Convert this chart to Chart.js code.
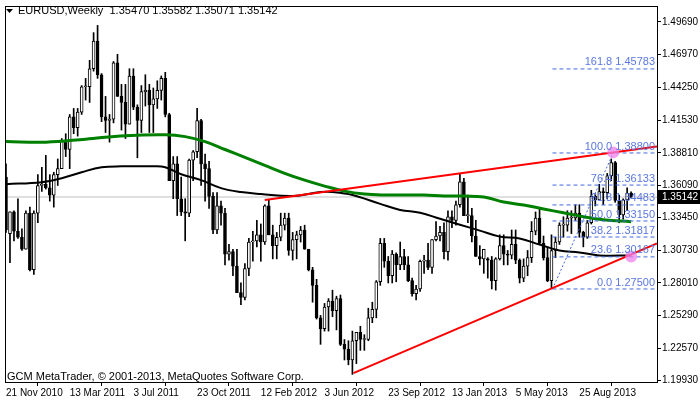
<!DOCTYPE html>
<html>
<head>
<meta charset="utf-8">
<script src="https://cdn.jsdelivr.net/npm/chart.js@4.4.0/dist/chart.umd.min.js"></script>
<style>
  html, body { margin: 0; padding: 0; background: #fff; }
  #wrap { width: 700px; height: 402px; }
</style>
</head>
<body>
<div id="wrap"><canvas id="chart" width="700" height="402"></canvas></div>
<script>
// weekly EURUSD candles, one row per week from 21 Nov 2010: open, high, low, close
const candles = [
  [1.3680,1.3790,1.3220,1.3240],[1.3210,1.3390,1.2968,1.3390],[1.3390,1.3400,1.3150,1.3230],[1.3230,1.3500,1.3170,1.3180],
  [1.3180,1.3250,1.3070,1.3080],[1.3080,1.3400,1.3080,1.3380],[1.3380,1.3430,1.2900,1.2910],[1.2910,1.3400,1.2870,1.3380],
  [1.3380,1.3700,1.3300,1.3610],[1.3610,1.3760,1.3560,1.3620],[1.3620,1.3860,1.3580,1.3590],[1.3590,1.3700,1.3480,1.3530],
  [1.3530,1.3720,1.3430,1.3700],[1.3700,1.3830,1.3610,1.3750],[1.3750,1.4000,1.3770,1.3980],[1.3980,1.4040,1.3850,1.3910],
  [1.3910,1.4200,1.3750,1.4180],[1.4180,1.4250,1.4040,1.4090],[1.4090,1.4250,1.4020,1.4220],[1.4220,1.4440,1.4200,1.4430],
  [1.4430,1.4500,1.4320,1.4430],[1.4430,1.4650,1.4300,1.4580],[1.4580,1.4880,1.4560,1.4810],[1.4810,1.4940,1.4500,1.4530],
  [1.4530,1.4540,1.4140,1.4180],[1.4180,1.4350,1.4050,1.4150],[1.4150,1.4200,1.3970,1.4160],[1.4160,1.4640,1.4130,1.4630],
  [1.4630,1.4700,1.4350,1.4350],[1.4350,1.4450,1.4070,1.4300],[1.4300,1.4450,1.4000,1.4120],[1.4120,1.4580,1.4120,1.4520],
  [1.4520,1.4580,1.4240,1.4260],[1.4260,1.4280,1.3840,1.4150],[1.4150,1.4440,1.4050,1.4390],[1.4390,1.4530,1.4270,1.4400],
  [1.4400,1.4450,1.4050,1.4280],[1.4280,1.4420,1.4050,1.4330],[1.4330,1.4480,1.4250,1.4400],[1.4400,1.4520,1.4320,1.4500],
  [1.4500,1.4550,1.4180,1.4200],[1.4200,1.4210,1.3650,1.3650],[1.3650,1.3850,1.3500,1.3790],[1.3790,1.3850,1.3360,1.3500],
  [1.3500,1.3680,1.3360,1.3390],[1.3390,1.3500,1.3150,1.3380],[1.3380,1.3830,1.3350,1.3820],[1.3820,1.3900,1.3650,1.3890],
  [1.3890,1.4250,1.3840,1.4150],[1.4150,1.4160,1.3610,1.3790],[1.3790,1.3870,1.3480,1.3750],[1.3750,1.3810,1.3420,1.3520],
  [1.3520,1.3550,1.3210,1.3240],[1.3240,1.3550,1.3210,1.3440],[1.3440,1.3480,1.3280,1.3380],[1.3380,1.3420,1.2950,1.3040],
  [1.3040,1.3120,1.2990,1.3060],[1.3060,1.3080,1.2860,1.2940],[1.2940,1.3080,1.2720,1.2720],[1.2720,1.2800,1.2620,1.2680],
  [1.2680,1.2960,1.2660,1.2920],[1.2920,1.3170,1.2860,1.3140],[1.3140,1.3230,1.2980,1.3150],[1.3150,1.3320,1.3100,1.3200],
  [1.3200,1.3290,1.2980,1.3140],[1.3140,1.3450,1.3120,1.3440],[1.3440,1.3490,1.3200,1.3200],[1.3200,1.3280,1.3000,1.3110],
  [1.3110,1.3220,1.3000,1.3180],[1.3180,1.3380,1.3150,1.3280],[1.3280,1.3380,1.3240,1.3340],[1.3340,1.3380,1.3030,1.3070],
  [1.3070,1.3220,1.2990,1.3160],[1.3160,1.3230,1.3000,1.3200],[1.3200,1.3270,1.3140,1.3240],[1.3240,1.3280,1.3080,1.3080],
  [1.3080,1.3080,1.2900,1.2910],[1.2910,1.2930,1.2640,1.2780],[1.2780,1.2830,1.2500,1.2510],[1.2510,1.2530,1.2290,1.2420],
  [1.2420,1.2630,1.2400,1.2600],[1.2600,1.2670,1.2400,1.2650],[1.2650,1.2740,1.2520,1.2570],[1.2570,1.2690,1.2410,1.2670],
  [1.2670,1.2700,1.2280,1.2290],[1.2290,1.2330,1.2160,1.2250],[1.2250,1.2320,1.2120,1.2160],[1.2160,1.2400,1.2040,1.2320],
  [1.2320,1.2390,1.2130,1.2390],[1.2390,1.2440,1.2240,1.2330],[1.2330,1.2370,1.2240,1.2330],[1.2330,1.2590,1.2320,1.2510],
  [1.2510,1.2640,1.2470,1.2580],[1.2580,1.2820,1.2510,1.2810],[1.2810,1.3170,1.2780,1.3130],[1.3130,1.3170,1.2930,1.2980],
  [1.2980,1.3020,1.2800,1.2860],[1.2860,1.3070,1.2800,1.3040],[1.3040,1.3050,1.2810,1.2950],[1.2950,1.3140,1.2910,1.3020],
  [1.3020,1.3080,1.2910,1.2950],[1.2950,1.3020,1.2810,1.2820],[1.2820,1.2840,1.2690,1.2710],[1.2710,1.2780,1.2660,1.2750],
  [1.2750,1.2990,1.2730,1.2980],[1.2980,1.3030,1.2880,1.2990],[1.2990,1.3130,1.2910,1.2930],[1.2930,1.3160,1.2880,1.3160],
  [1.3160,1.3310,1.3150,1.3190],[1.3190,1.3270,1.3150,1.3220],[1.3220,1.3300,1.3000,1.3060],[1.3060,1.3400,1.2990,1.3350],
  [1.3350,1.3400,1.3260,1.3320],[1.3320,1.3480,1.3280,1.3450],[1.3450,1.3710,1.3430,1.3640],[1.3640,1.3670,1.3360,1.3360],
  [1.3360,1.3530,1.3300,1.3360],[1.3360,1.3420,1.3140,1.3190],[1.3190,1.3320,1.3020,1.3020],[1.3020,1.3110,1.2950,1.3000],
  [1.3000,1.3080,1.2880,1.3080],[1.3000,1.3010,1.2840,1.2990],[1.2990,1.3020,1.2750,1.2820],[1.2820,1.3010,1.2740,1.3000],
  [1.3000,1.3200,1.2990,1.3110],[1.3110,1.3200,1.2950,1.3040],[1.3040,1.3070,1.2950,1.3030],[1.3030,1.3240,1.3000,1.3120],
  [1.3120,1.3240,1.2960,1.2990],[1.2990,1.3000,1.2800,1.2840],[1.2840,1.3000,1.2810,1.2940],[1.2940,1.3070,1.2860,1.3010],
  [1.3010,1.3310,1.2970,1.3230],[1.3230,1.3390,1.3200,1.3340],[1.3340,1.3420,1.3120,1.3130],[1.3130,1.3190,1.2990,1.3010],
  [1.3010,1.3100,1.2810,1.2820],[1.2820,1.3200,1.2760,1.3070],[1.3070,1.3180,1.3010,1.3140],[1.3140,1.3300,1.3120,1.3280],
  [1.3280,1.3350,1.3180,1.3280],[1.3280,1.3400,1.3230,1.3340],[1.3340,1.3400,1.3210,1.3340],[1.3340,1.3450,1.3320,1.3380],
  [1.3380,1.3450,1.3180,1.3220],[1.3220,1.3230,1.3100,1.3180],[1.3180,1.3320,1.3170,1.3300],[1.3300,1.3570,1.3290,1.3520],
  [1.3520,1.3540,1.3440,1.3490],[1.3490,1.3620,1.3490,1.3560],[1.3560,1.3590,1.3450,1.3550],[1.3550,1.3710,1.3500,1.3690],
  [1.3690,1.3830,1.3650,1.3800],[1.3800,1.3810,1.3470,1.3485],[1.3485,1.3530,1.3300,1.3365],[1.3365,1.3500,1.3330,1.3490],
  [1.3490,1.3590,1.3400,1.3547],[1.35470,1.35582,1.35071,1.35142]
];

// moving averages, read at sampled weeks
const greenMaWeeks = [0,10,20,30,40,45,50,55,60,65,70,75,80,85,90,95,100,105,110,115,120,125,130,135,140,145,150,157];
const greenMa = [1.3975,1.3970,1.3995,1.4024,1.4032,1.4016,1.3974,1.3909,1.3843,1.3777,1.3711,1.3654,1.3605,1.3563,1.3539,1.3531,1.3531,1.3531,1.3522,1.3522,1.3514,1.3473,1.3448,1.3415,1.3383,1.3350,1.3325,1.3309];
const blackMaWeeks = [0,9,14,19,24,29,37,40,44,49,54,59,64,72,79,82,87,94,99,104,109,114,119,124,129,134,139,144,149,157];
const blackMa = [1.3621,1.3637,1.3670,1.3720,1.3761,1.3769,1.3769,1.3761,1.3703,1.3654,1.3588,1.3555,1.3539,1.3522,1.3555,1.3555,1.3531,1.3457,1.3407,1.3383,1.3333,1.3284,1.3235,1.3185,1.3169,1.3119,1.3070,1.3054,1.3029,1.3029];

// trend lines [week, price]
const upperTrend = [[65, 1.3489], [163.5, 1.3933]];
const lowerTrend = [[87.25, 1.2051], [163.5, 1.3128]];

// fibonacci retracement
const fibStart = 137.25;
const fibLevels = ["0.0", "23.6", "38.2", "50.0", "61.8", "76.4", "100.0", "161.8"];
const fibPrices = [1.27500, 1.30167, 1.31817, 1.33150, 1.34483, 1.36133, 1.38800, 1.45783];
const fibDiagonal = [[137.25, 1.2750], [152.5, 1.3880]];
const markers = [[152.5, 1.3885], [157, 1.3020]];

const lastPrice = 1.35142;
const yTicks = [1.49690, 1.46970, 1.44250, 1.41530, 1.38810, 1.36090, 1.33450, 1.30730, 1.28010, 1.25290, 1.22570, 1.19930];
const dateTicks = [0, 16, 32, 48, 64, 80, 96, 112, 128, 144];
const dateLabels = ["21 Nov 2010", "13 Mar 2011", "3 Jul 2011", "23 Oct 2011", "12 Feb 2012", "3 Jun 2012", "23 Sep 2012", "13 Jan 2013", "5 May 2013", "25 Aug 2013"];

const FONT = "Liberation Sans";
const pts = arr => arr.map(p => ({ x: p[0], y: p[1] }));

const wicks = candles.map((c, i) => ({ x: i, y: [c[2], c[1]] }));
const bodies = candles.map((c, i) => ({ x: i, y: [c[0], c[3]] }));
const bodyFill = candles.map(c => c[3] >= c[0] ? "#ffffff" : "#000000");

let datasets = [
  { type: "line", data: [{ x: 0, y: lastPrice }, { x: 163.5, y: lastPrice }], borderColor: "#c0c0c0", borderWidth: 1, pointRadius: 0, order: 9 },
  { type: "bar", data: wicks, backgroundColor: "#000", barThickness: 1, grouped: false, order: 5 },
  { type: "bar", data: bodies, backgroundColor: bodyFill, borderColor: "#000", borderWidth: 1, borderSkipped: false,
    barThickness: 3, grouped: false, minBarLength: 1, order: 4 },
  { type: "line", data: greenMaWeeks.map((w, i) => ({ x: w, y: greenMa[i] })), borderColor: "#008000", borderWidth: 3, pointRadius: 0, tension: 0.4, order: 2 },
  { type: "line", data: blackMaWeeks.map((w, i) => ({ x: w, y: blackMa[i] })), borderColor: "#000", borderWidth: 2, pointRadius: 0, tension: 0.4, order: 2 },
  { type: "line", data: pts(upperTrend), borderColor: "#ff0000", borderWidth: 2, pointRadius: 0, order: 1 },
  { type: "line", data: pts(lowerTrend), borderColor: "#ff0000", borderWidth: 2, pointRadius: 0, order: 1 },
  { type: "line", data: pts(fibDiagonal), borderColor: "#4169e1", borderWidth: 1, borderDash: [2, 2], pointRadius: 0, order: 1 },
  { type: "scatter", data: pts(markers), backgroundColor: "rgba(238,130,238,0.75)", borderWidth: 0, pointRadius: 6, order: 0 }
];
fibPrices.forEach(p => {
  datasets.push({ type: "line", data: [{ x: fibStart, y: p }, { x: 163.5, y: p }], borderColor: "#4169e1", borderWidth: 1, borderDash: [4, 3], pointRadius: 0, order: 1 });
});

const overlay = {
  id: "overlay",
  afterDraw(chart) {
    const ctx = chart.ctx, a = chart.chartArea, y = chart.scales.y;
    ctx.save();
    ctx.strokeStyle = "#000"; ctx.lineWidth = 1;
    ctx.strokeRect(a.left - 0.5, a.top - 0.5, a.right - a.left + 1, a.bottom - a.top + 1);
    // fib labels
    ctx.font = "11px " + FONT; ctx.fillStyle = "#5a78e0"; ctx.textAlign = "right"; ctx.textBaseline = "bottom";
    fibPrices.forEach((p, i) => ctx.fillText(fibLevels[i] + " " + p.toFixed(5), a.right - 2, y.getPixelForValue(p) - 1));
    // header
    ctx.fillStyle = "#000"; ctx.textAlign = "left"; ctx.textBaseline = "middle";
    ctx.beginPath(); ctx.moveTo(6, 9); ctx.lineTo(13, 9); ctx.lineTo(9.5, 13); ctx.fill();
    ctx.font = "11px " + FONT;
    ctx.fillText("EURUSD,Weekly  1.35470 1.35582 1.35071 1.35142", 18, 11);
    ctx.fillText("GCM MetaTrader, \u00a9 2001-2013, MetaQuotes Software Corp.", 7, 377);
    // last price box
    const py = y.getPixelForValue(lastPrice);
    ctx.fillRect(a.right + 1, py - 7, 700 - a.right, 14);
    ctx.fillStyle = "#fff";
    ctx.font = "10px " + FONT;
    ctx.fillText(lastPrice.toFixed(5), a.right + 5, py);
    ctx.restore();
  }
};

new Chart(document.getElementById("chart"), {
  type: "bar",
  data: { datasets: datasets },
  plugins: [overlay],
  options: {
    responsive: false,
    animation: false,
    layout: { padding: { top: 3, left: 3 } },
    plugins: { legend: { display: false }, tooltip: { enabled: false } },
    scales: {
      x: {
        type: "linear", min: 0, max: 163.5, offset: false,
        afterBuildTicks: axis => { axis.ticks = dateTicks.map(v => ({ value: v })); },
        afterFit: axis => { axis.height = 20; },
        ticks: { callback: v => dateLabels[dateTicks.indexOf(v)], font: { family: FONT, size: 10 }, color: "#000",
          maxRotation: 0, autoSkip: false, align: "start", padding: 1 },
        grid: { drawOnChartArea: false, tickLength: 4, color: "#000" },
        border: { color: "#000" }
      },
      y: {
        position: "right", min: 1.1977, max: 1.5093,
        afterBuildTicks: axis => { axis.ticks = yTicks.map(v => ({ value: v })); },
        afterFit: axis => { axis.width = 43; },
        ticks: { callback: v => v.toFixed(5), font: { family: FONT, size: 10 }, color: "#000", padding: 1 },
        grid: { drawOnChartArea: false, tickLength: 4, color: "#000" },
        border: { color: "#000" }
      }
    }
  }
});
</script>
</body>
</html>
